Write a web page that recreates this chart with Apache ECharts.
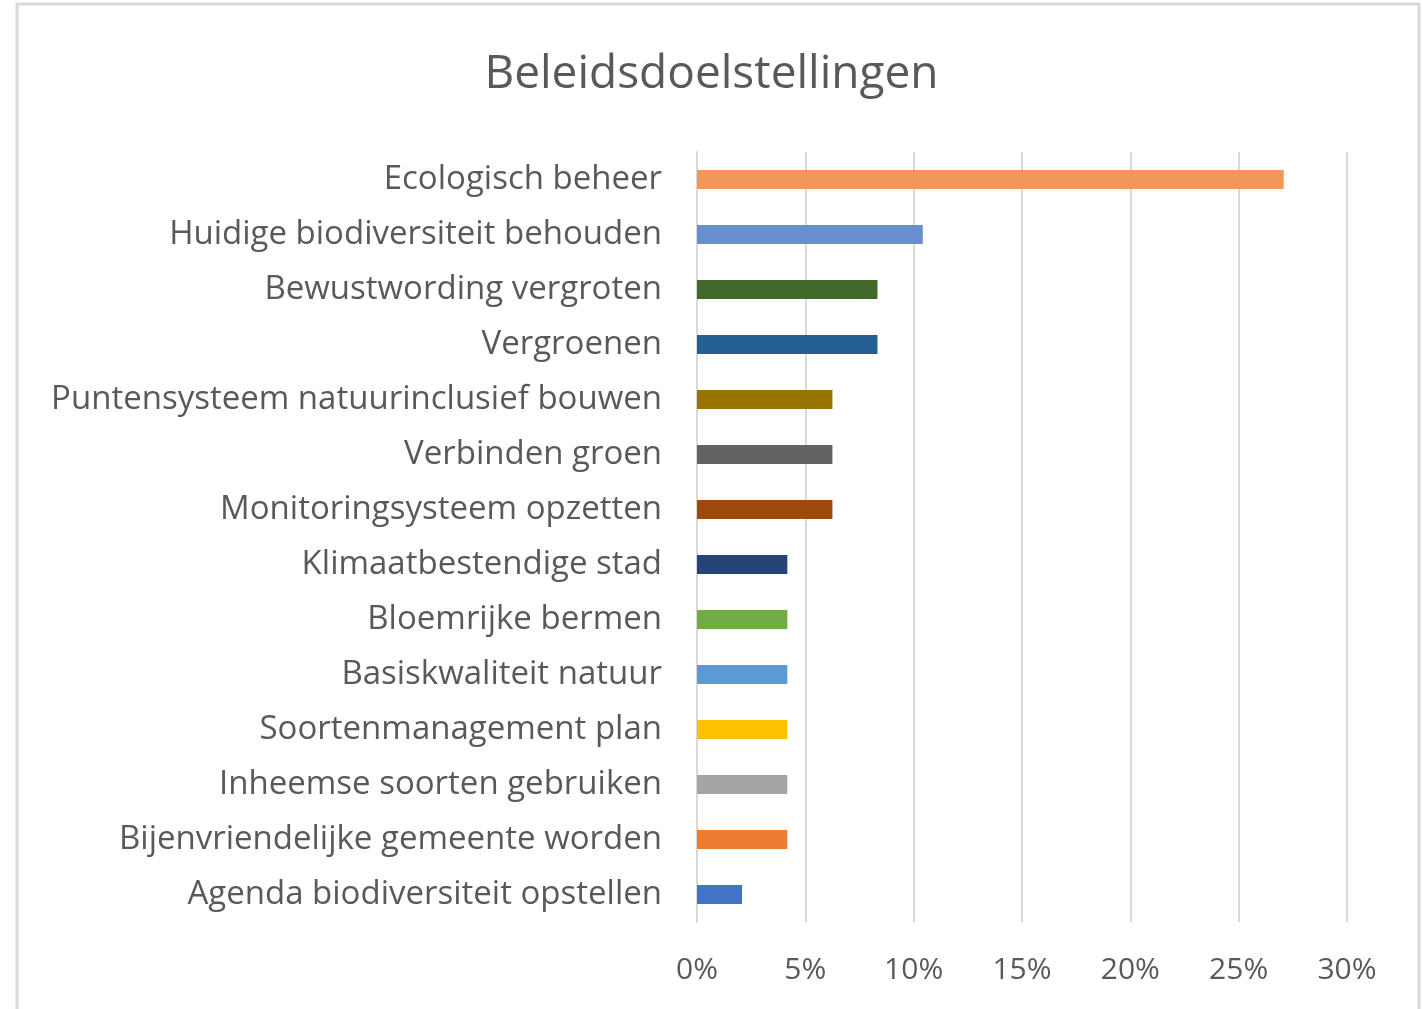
<!DOCTYPE html>
<html><head><meta charset="utf-8">
<script src="https://cdn.jsdelivr.net/npm/echarts@6/dist/echarts.min.js"></script>
<style>html,body{margin:0;padding:0;background:#fff}#c{width:1423px;height:1009px}</style>
</head><body><div id="c"></div>
<script>
const categories = [
  "Agenda biodiversiteit opstellen",
  "Bijenvriendelijke gemeente worden",
  "Inheemse soorten gebruiken",
  "Soortenmanagement plan",
  "Basiskwaliteit natuur",
  "Bloemrijke bermen",
  "Klimaatbestendige stad",
  "Monitoringsysteem opzetten",
  "Verbinden groen",
  "Puntensysteem natuurinclusief bouwen",
  "Vergroenen",
  "Bewustwording vergroten",
  "Huidige biodiversiteit behouden",
  "Ecologisch beheer"
];
const values = [0.0208, 0.0417, 0.0417, 0.0417, 0.0417, 0.0417, 0.0417, 0.0625, 0.0625, 0.0625, 0.0833, 0.0833, 0.1042, 0.2708];
const colors = ["#4472C4","#ED7D31","#A5A5A5","#FFC000","#5B9BD5","#70AD47","#264478","#9E480E","#636363","#997300","#255E91","#43682B","#698ED0","#F1975A"];
const tickLabels = ["0%","5%","10%","15%","20%","25%","30%"];

const FONT = "'Open Sans', sans-serif";
const chart = echarts.init(document.getElementById('c'), null, {renderer:'canvas'});
chart.setOption({
  animation:false,
  backgroundColor:'#fff',
  graphic:[{type:'rect', shape:{x:17,y:4,width:1402,height:1020}, style:{fill:'none', stroke:'#d9d9d9', lineWidth:3}, z:-1}],
  title:{text:'Beleidsdoelstellingen', left:'center', top:47, textStyle:{fontFamily:FONT, fontSize:46, fontWeight:'normal', color:'#595959'}},
  grid:{left:697, right:76, top:152, bottom:87, containLabel:false},
  xAxis:{type:'value', min:0, max:0.30, interval:0.05,
    axisLine:{show:false}, axisTick:{show:false},
    splitLine:{show:true, lineStyle:{color:'#d9d9d9', width:2}},
    axisLabel:{margin:33, fontFamily:FONT, fontSize:30, color:'#595959',
      formatter:(v)=>tickLabels[Math.round(v/0.05)]}},
  yAxis:{type:'category', data:categories,
    axisLine:{show:true, lineStyle:{color:'#d9d9d9', width:2}}, axisTick:{show:false},
    axisLabel:{margin:35, fontFamily:FONT, fontSize:33, color:'#595959', padding:[5,0,0,0]}},
  series:[{type:'bar', barWidth:19,
    data: values.map((v,i)=>({value:v, itemStyle:{color:colors[i]}}))}]
});
</script></body></html>
